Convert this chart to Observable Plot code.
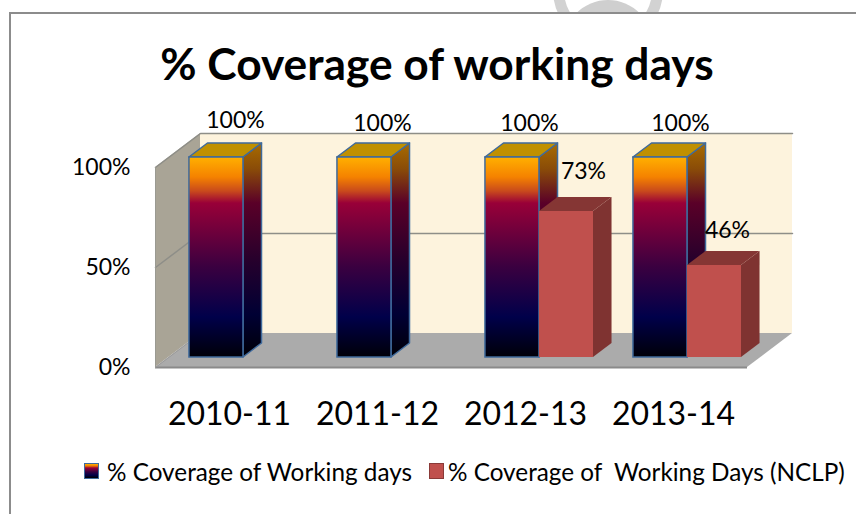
<!DOCTYPE html>
<html>
<head>
<meta charset="utf-8">
<script src="https://cdn.jsdelivr.net/npm/d3@7"></script>
<script src="https://cdn.jsdelivr.net/npm/@observablehq/plot@0.6"></script>
<style>
  html,body{margin:0;padding:0;background:#fff;overflow:hidden}
  #page{position:relative;width:856px;height:514px;overflow:hidden;font-family:Lato,sans-serif;color:#000}
  #ring{position:absolute;left:553px;top:-65px;width:110px;height:110px;box-sizing:border-box;border-radius:50%;border:11px solid #d2d2d2}
  #head{position:absolute;left:563px;top:0;width:90px;height:90px;border-radius:50%;background:#cfcfcf}
  #frame{position:absolute;left:9px;top:12px;width:900px;height:600px;box-sizing:border-box;border:2px solid #8c8c8c;background:#fff}
  #title{position:absolute;left:0;top:41px;width:874px;text-align:center;font-size:44.3px;line-height:44px;font-weight:700;white-space:nowrap}
  #chart{position:absolute;left:0;top:100px}
  .lg{position:absolute;top:459px;font-size:24.3px;line-height:26px;white-space:pre}
  .sw{position:absolute;top:463px;width:15px;height:16px;box-sizing:border-box}
  #sw1{left:84px;border:1.5px solid #3f6a9c;background:linear-gradient(#ffb000 0,#f07a00 14%,#990038 28%,#3a0040 55%,#00004a 80%,#000 100%)}
  #sw2{left:429px;border:1.5px solid #8a3a38;background:#c0504d}
</style>
</head>
<body>
<div id="page">
  <div id="ring"></div><div id="head"></div>
  <div id="frame"></div>
  <div id="title">% Coverage of working days</div>
  <div id="chart"></div>
  <div class="sw" id="sw1"></div><div class="lg" style="left:107px">% Coverage of Working days</div>
  <div class="sw" id="sw2"></div><div class="lg" style="left:448px">% Coverage of  Working Days (NCLP)</div>
</div>
<script>
const years = ["2010-11", "2011-12", "2012-13", "2013-14"];
const coverage = [100, 100, 100, 100];
const nclp = [null, null, 73, 46];
const yTicks = [0, 50, 100];

// Oblique projection of the 3D box, in data units (x: categories, y: percent)
const depthX = 0.304, depthY = 17;
const gap = 0.14, barW = 0.365;
const zNear = 0.294, zFar = 0.706;
const px = (x, z) => x + z * depthX;
const py = (v, z) => v + z * depthY;

const rows = (vals, off) => vals.flatMap((v, i) => v == null ? [] : [{
  i, v, a: i + gap + off * barW, b: i + gap + (off + 1) * barW
}]);
const rowsA = rows(coverage, 0);
const rowsB = rows(nclp, 1);

const sideFaces = rs => rs.flatMap(r => [zNear, zFar].map(z => ({
  k: r.i, x: px(r.b, z), y1: py(0, z), y2: py(r.v, z)
})));
const topFaces = rs => rs.flatMap(r => [zNear, zFar].map(z => ({
  k: r.i, y: py(r.v, z), x1: px(r.a, z), x2: px(r.b, z)
})));
const front = rs => rs.map(r => ({
  x1: px(r.a, zNear), x2: px(r.b, zNear), y1: py(0, zNear), y2: py(r.v, zNear)
}));

const n = years.length;
const gridRows = yTicks.filter(t => t > 0).flatMap(t => [
  {t, x: 0, y: t}, {t, x: depthX, y: t + depthY}, {t, x: n + depthX, y: t + depthY}
]);

function gradient(id, stops) {
  const g = d3.create("svg:linearGradient").attr("id", id)
    .attr("x1", 0).attr("y1", 0).attr("x2", 0).attr("y2", 1);
  stops.forEach(([o, c]) => g.append("stop").attr("offset", o).attr("stop-color", c));
  return g.node();
}
const defs = () => {
  const d = d3.create("svg:defs");
  d.node().appendChild(gradient("barFront", [[0, "#ffb000"], [.1, "#f58200"], [.17, "#c94a1c"], [.23, "#990038"], [.55, "#3a0040"], [.8, "#00004a"], [1, "#000008"]]));
  d.node().appendChild(gradient("barSide", [[0, "#a86c00"], [.12, "#8a4c08"], [.28, "#5a0028"], [.55, "#26002c"], [.8, "#000034"], [1, "#000006"]]));
  return d.node();
};

// Data labels sit beside the bar tops, each with its own small offset as in the reference
const labelMark = (r, dx, dy) => Plot.text([r], {
  x: d => px((d.a + d.b) / 2, zNear), y: d => py(d.v, zNear),
  text: d => d.v + "%", dx, dy, fontSize: 23
});

const blue = "#3f6a9c";
const chart = Plot.plot({
  width: 856, height: 330,
  marginLeft: 155, marginRight: 64, marginTop: 33, marginBottom: 63,
  style: {fontFamily: "Lato, sans-serif", background: "none", overflow: "visible", color: "#000"},
  x: {domain: [0, n + depthX]},
  y: {domain: [0, 100 + depthY]},
  marks: [
    defs,
    // back wall
    Plot.rect([0], {x1: depthX, x2: n + depthX, y1: depthY, y2: 100 + depthY, fill: "#fdf3dd", inset: 0}),
    // side wall
    Plot.areaY([0, 1], {x: d => d * depthX, y1: d => d * depthY, y2: d => 100 + d * depthY, fill: "#a9a496"}),
    // floor
    Plot.areaX([0, 1], {y: d => d * depthY, x1: d => d * depthX, x2: d => n + d * depthX, fill: "#ababab"}),
    Plot.line(gridRows, {x: "x", y: "y", z: "t", stroke: "#8e8e88", strokeWidth: 1.5}),
    Plot.ruleY([0], {x1: 0, x2: n, stroke: "#8a8a8a", strokeWidth: 2}),
    Plot.line([0, 1], {x: d => d * depthX, y: d => d * depthY, stroke: "#9a9a9a", strokeWidth: 1}),
    Plot.ruleX([0], {y1: 0, y2: 100, stroke: "#9a9a92", strokeWidth: 1}),

    // gradient bars
    Plot.areaY(sideFaces(rowsA), {x: "x", y1: "y1", y2: "y2", z: "k", fill: "url(#barSide)", stroke: blue, strokeWidth: 1.5}),
    Plot.areaX(topFaces(rowsA), {y: "y", x1: "x1", x2: "x2", z: "k", fill: "#c09000", stroke: blue, strokeWidth: 1.5}),
    Plot.rect(front(rowsA), {x1: "x1", x2: "x2", y1: "y1", y2: "y2", fill: "url(#barFront)", stroke: blue, strokeWidth: 1.5, inset: 0}),

    // NCLP bars
    Plot.areaY(sideFaces(rowsB), {x: "x", y1: "y1", y2: "y2", z: "k", fill: "#7f3331"}),
    Plot.areaX(topFaces(rowsB), {y: "y", x1: "x1", x2: "x2", z: "k", fill: "#853634"}),
    Plot.rect(front(rowsB), {x1: "x1", x2: "x2", y1: "y1", y2: "y2", fill: "#c0504d", inset: 0}),

    // data labels
    labelMark(rowsA[0], 19, -37),
    labelMark(rowsA[1], 18, -34),
    labelMark(rowsA[2], 17, -34),
    labelMark(rowsA[3], 20, -34),
    labelMark(rowsB[0], 17, -40),
    labelMark(rowsB[1], 13, -35),

    Plot.axisY({ticks: yTicks, tickFormat: d => d + "%", tickSize: 0, tickPadding: 25, fontSize: 23, label: null}),
    Plot.axisX({ticks: years.map((_, i) => i + 0.5), tickFormat: d => years[Math.floor(d)], tickSize: 0, tickPadding: 35, fontSize: 32, label: null})
  ]
});
document.getElementById("chart").appendChild(chart);
</script>
</body>
</html>
